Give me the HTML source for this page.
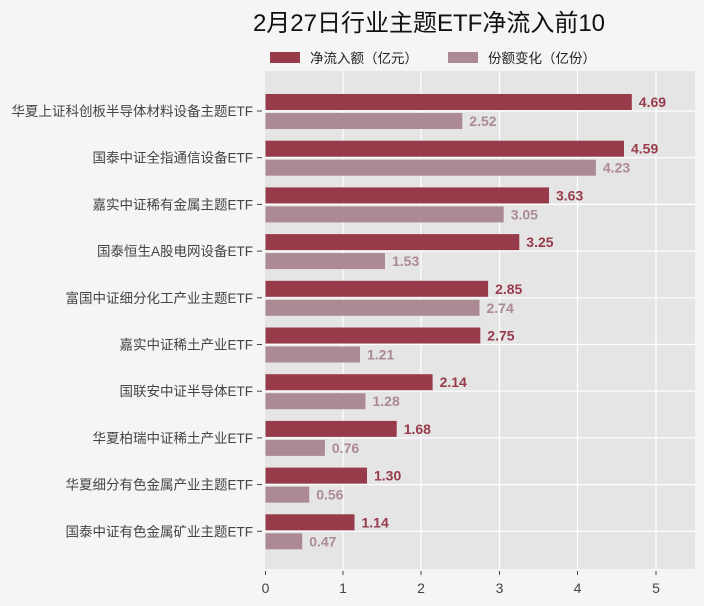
<!DOCTYPE html>
<html><head><meta charset="utf-8"><style>
body{margin:0;background:#f5f5f5;}
svg{display:block;font-family:"Liberation Sans","Noto Sans CJK SC",sans-serif;}
.r{fill:#973b4b}.g{fill:#ab8a93}
.vr{font-size:14px;font-weight:bold;fill:#973b4b}
.vg{font-size:14px;font-weight:bold;fill:#ab8a93}
.l{font-size:13.5px;fill:#444;text-anchor:end}
.t{font-size:14px;fill:#444;text-anchor:middle}
</style></head><body>
<svg width="704" height="606" xmlns="http://www.w3.org/2000/svg">
<rect width="704" height="606" fill="#f5f5f5"/>
<text x="429" y="31" font-size="24" text-anchor="middle" fill="#111">2月27日行业主题ETF净流入前10</text>
<rect x="270" y="52" width="30" height="11" fill="#973b4b"/>
<text x="310" y="63" font-size="13.5" fill="#222">净流入额（亿元）</text>
<rect x="448" y="52" width="30" height="11" fill="#ab8a93"/>
<text x="488" y="63" font-size="13.5" fill="#222">份额变化（亿份）</text>
<rect x="265" y="71" width="430" height="498" fill="#e5e5e5"/>
<g stroke="#fff" stroke-width="1.2">
<line x1="343" y1="71" x2="343" y2="569"/><line x1="421" y1="71" x2="421" y2="569"/>
<line x1="499.5" y1="71" x2="499.5" y2="569"/><line x1="577.5" y1="71" x2="577.5" y2="569"/>
<line x1="656" y1="71" x2="656" y2="569"/>
<line x1="265" x2="695" y1="111" y2="111"/><line x1="265" x2="695" y1="157.7" y2="157.7"/>
<line x1="265" x2="695" y1="204.4" y2="204.4"/><line x1="265" x2="695" y1="251.1" y2="251.1"/>
<line x1="265" x2="695" y1="297.8" y2="297.8"/><line x1="265" x2="695" y1="344.5" y2="344.5"/>
<line x1="265" x2="695" y1="391.2" y2="391.2"/><line x1="265" x2="695" y1="437.9" y2="437.9"/>
<line x1="265" x2="695" y1="484.6" y2="484.6"/><line x1="265" x2="695" y1="531.3" y2="531.3"/>
</g>

<g transform="translate(0,111)"><rect class="r" x="265.5" y="-17" width="366.3" height="16"/><rect class="g" x="265.5" y="2" width="196.8" height="16"/><text class="vr" x="638.8" y="-4">4.69</text><text class="vg" x="469.3" y="15">2.52</text><line x1="257" x2="262" stroke="#444"/><text class="l" x="253" y="5">华夏上证科创板半导体材料设备主题ETF</text></g>
<g transform="translate(0,157.7)"><rect class="r" x="265.5" y="-17" width="358.5" height="16"/><rect class="g" x="265.5" y="2" width="330.4" height="16"/><text class="vr" x="631" y="-4">4.59</text><text class="vg" x="602.9" y="15">4.23</text><line x1="257" x2="262" stroke="#444"/><text class="l" x="253" y="5">国泰中证全指通信设备ETF</text></g>
<g transform="translate(0,204.4)"><rect class="r" x="265.5" y="-17" width="283.5" height="16"/><rect class="g" x="265.5" y="2" width="238.2" height="16"/><text class="vr" x="556" y="-4">3.63</text><text class="vg" x="510.7" y="15">3.05</text><line x1="257" x2="262" stroke="#444"/><text class="l" x="253" y="5">嘉实中证稀有金属主题ETF</text></g>
<g transform="translate(0,251.1)"><rect class="r" x="265.5" y="-17" width="253.8" height="16"/><rect class="g" x="265.5" y="2" width="119.5" height="16"/><text class="vr" x="526.3" y="-4">3.25</text><text class="vg" x="392" y="15">1.53</text><line x1="257" x2="262" stroke="#444"/><text class="l" x="253" y="5">国泰恒生A股电网设备ETF</text></g>
<g transform="translate(0,297.8)"><rect class="r" x="265.5" y="-17" width="222.6" height="16"/><rect class="g" x="265.5" y="2" width="214" height="16"/><text class="vr" x="495.1" y="-4">2.85</text><text class="vg" x="486.5" y="15">2.74</text><line x1="257" x2="262" stroke="#444"/><text class="l" x="253" y="5">富国中证细分化工产业主题ETF</text></g>
<g transform="translate(0,344.5)"><rect class="r" x="265.5" y="-17" width="214.8" height="16"/><rect class="g" x="265.5" y="2" width="94.5" height="16"/><text class="vr" x="487.3" y="-4">2.75</text><text class="vg" x="367" y="15">1.21</text><line x1="257" x2="262" stroke="#444"/><text class="l" x="253" y="5">嘉实中证稀土产业ETF</text></g>
<g transform="translate(0,391.2)"><rect class="r" x="265.5" y="-17" width="167.1" height="16"/><rect class="g" x="265.5" y="2" width="100" height="16"/><text class="vr" x="439.6" y="-4">2.14</text><text class="vg" x="372.5" y="15">1.28</text><line x1="257" x2="262" stroke="#444"/><text class="l" x="253" y="5">国联安中证半导体ETF</text></g>
<g transform="translate(0,437.9)"><rect class="r" x="265.5" y="-17" width="131.2" height="16"/><rect class="g" x="265.5" y="2" width="59.4" height="16"/><text class="vr" x="403.7" y="-4">1.68</text><text class="vg" x="331.9" y="15">0.76</text><line x1="257" x2="262" stroke="#444"/><text class="l" x="253" y="5">华夏柏瑞中证稀土产业ETF</text></g>
<g transform="translate(0,484.6)"><rect class="r" x="265.5" y="-17" width="101.5" height="16"/><rect class="g" x="265.5" y="2" width="43.7" height="16"/><text class="vr" x="374" y="-4">1.30</text><text class="vg" x="316.2" y="15">0.56</text><line x1="257" x2="262" stroke="#444"/><text class="l" x="253" y="5">华夏细分有色金属产业主题ETF</text></g>
<g transform="translate(0,531.3)"><rect class="r" x="265.5" y="-17" width="89" height="16"/><rect class="g" x="265.5" y="2" width="36.7" height="16"/><text class="vr" x="361.5" y="-4">1.14</text><text class="vg" x="309.2" y="15">0.47</text><line x1="257" x2="262" stroke="#444"/><text class="l" x="253" y="5">国泰中证有色金属矿业主题ETF</text></g>

<g stroke="#444">
<line x1="265.5" x2="265.5" y1="571" y2="575"/><line x1="343" x2="343" y1="571" y2="575"/>
<line x1="421" x2="421" y1="571" y2="575"/><line x1="499.5" x2="499.5" y1="571" y2="575"/>
<line x1="577.5" x2="577.5" y1="571" y2="575"/><line x1="656" x2="656" y1="571" y2="575"/>
</g>
<text class="t" x="265.5" y="593">0</text><text class="t" x="343" y="593">1</text>
<text class="t" x="421" y="593">2</text><text class="t" x="499.5" y="593">3</text>
<text class="t" x="577.5" y="593">4</text><text class="t" x="656" y="593">5</text>
</svg>
</body></html>
